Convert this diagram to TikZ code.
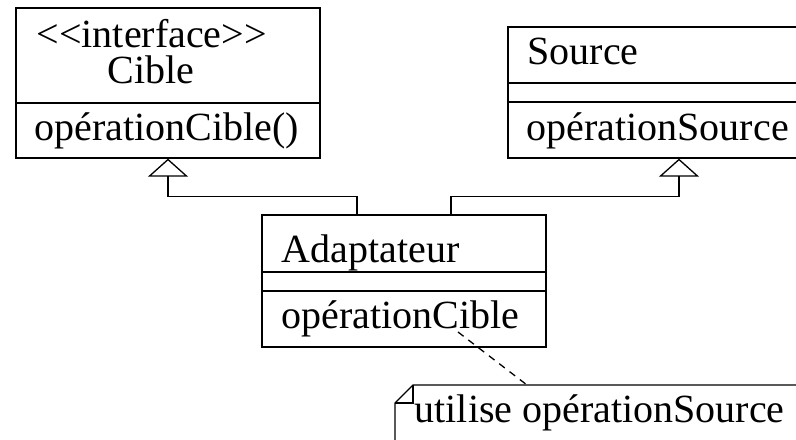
\documentclass[tikz,border=0pt]{standalone}
\usepackage{fontspec}
\setmainfont{Liberation Serif}
\usetikzlibrary{arrows.meta}
\begin{document}
\begin{tikzpicture}[x=0.5pt,y=-0.5pt,
  line width=0.65pt,
  classbox/.style={draw, rectangle, inner sep=0pt},
  txt/.style={anchor=base west, inner sep=0pt, font=\fontsize{20}{24}\selectfont},
  inherit/.style={-{Triangle[open,length=9pt,width=20pt,line width=0.65pt]}},
  notelink/.style={dash pattern=on 3.5pt off 3pt}]
\useasboundingbox (0,0) rectangle (796,439);
\clip (0,0) rectangle (796,439);

% class boxes
\node[classbox, minimum width=152pt, minimum height=75pt] (cible) at (168,83) {};
\node[classbox, minimum width=171pt, minimum height=65.5pt] (src) at (679,92.5) {};
\node[classbox, minimum width=142pt, minimum height=66pt] (adapt) at (404,281) {};

% compartment separators
\draw (16,103) -- (320,103);
\draw (508,83) -- (850,83);
\draw (508,102) -- (850,102);
\draw (262,272) -- (546,272);
\draw (262,291) -- (546,291);

% class texts
\node[txt] (stereo) at (36,47) {<{}<interface>{}>};
\node[txt] (cibname) at (107,83) {Cible};
\node[txt] (cibop) at (34,140) {opérationCible()};
\node[txt] (srcname) at (527,64) {Source};
\node[txt] (srcop) at (526,140) {opérationSource};
\node[txt] (adname) at (281,262) {Adaptateur};
\node[txt] (adop) at (281,328) {opérationCible};

% generalisations
\draw[inherit] ([xshift=-23.5pt]adapt.north) |- ([yshift=-19pt]cible.south) -- (cible.south);
\draw[inherit] ([xshift=23.5pt]adapt.north) |- ([yshift=-19pt]src.south) -- (src.south);

% note with folded corner
\node[txt] (note) at (414,422) {utilise opérationSource};
\coordinate (notetop) at (527,385);
\draw (395,450) -- (395,403) -- (413,385) -- (820,385);
\draw (395,403) -- (413,403) -- (413,385);

% note attachment
\coordinate (opref) at (458,332);
\draw[notelink] (opref) -- (notetop);
\end{tikzpicture}
\end{document}
